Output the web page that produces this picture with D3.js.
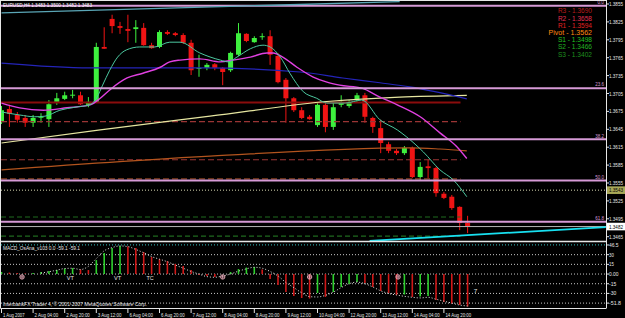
<!DOCTYPE html>
<html><head><meta charset="utf-8">
<script src="https://cdn.jsdelivr.net/npm/d3@7"></script>
<style>html,body{margin:0;padding:0;background:#000;overflow:hidden}svg{display:block}</style>
</head><body><svg id="c" width="625" height="318"></svg>
<script>
// ---------------- DATA ----------------
const opens  = [1.3657,1.3679,1.3669,1.3664,1.3656,1.3665,1.3662,1.3691,1.3696,1.3702,1.3702,1.3686,1.3691,1.3783,1.3830,1.3818,1.3813,1.3813,1.3815,1.3786,
                1.3783,1.3808,1.3806,1.3803,1.3790,1.3747,1.3748,1.3754,1.3748,1.3744,1.3770,1.3805,1.3791,1.3800,1.3801,1.3768,1.3728,1.3697,1.3677,1.3666,
                1.3652,1.3686,1.3649,1.3686,1.3684,1.3694,1.3702,1.3664,1.3647,1.3620,1.3609,1.3605,1.3614,1.3565,1.3583,1.3580,1.3537,1.3532,1.3515,1.3488];
const highs  = [1.3684,1.3686,1.3674,1.3669,1.3669,1.3672,1.3694,1.3706,1.3708,1.3711,1.3708,1.3699,1.3790,1.3816,1.3837,1.3825,1.3837,1.3828,1.3823,1.3790,
                1.3811,1.3811,1.3808,1.3806,1.3795,1.3770,1.3756,1.3756,1.3749,1.3775,1.3823,1.3806,1.3801,1.3806,1.3811,1.3773,1.3731,1.3699,1.3682,1.3669,
                1.3689,1.3691,1.3691,1.3702,1.3694,1.3706,1.3706,1.3666,1.3661,1.3624,1.3612,1.3617,1.3616,1.3590,1.3594,1.3582,1.3540,1.3535,1.3516,1.3500];
const lows   = [1.3654,1.3649,1.3656,1.3649,1.3649,1.3656,1.3649,1.3686,1.3694,1.3697,1.3686,1.3682,1.3689,1.3780,1.3806,1.3805,1.3791,1.3790,1.3785,1.3780,
                1.3781,1.3803,1.3801,1.3788,1.3736,1.3733,1.3744,1.3744,1.3719,1.3741,1.3768,1.3791,1.3790,1.3795,1.3753,1.3722,1.3656,1.3674,1.3662,1.3661,
                1.3649,1.3640,1.3644,1.3682,1.3681,1.3691,1.3656,1.3639,1.3605,1.3605,1.3602,1.3602,1.3563,1.3560,1.3563,1.3532,1.3528,1.3510,1.3476,1.3471];
const closes = [1.3677,1.3671,1.3661,1.3656,1.3664,1.3666,1.3687,1.3697,1.3702,1.3703,1.3687,1.3691,1.3783,1.3780,1.3818,1.3815,1.3810,1.3816,1.3786,1.3781,
                1.3808,1.3805,1.3803,1.3790,1.3744,1.3748,1.3753,1.3748,1.3741,1.3773,1.3806,1.3793,1.3798,1.3801,1.3770,1.3724,1.3697,1.3677,1.3664,1.3662,
                1.3686,1.3649,1.3682,1.3691,1.3689,1.3702,1.3666,1.3649,1.3622,1.3609,1.3605,1.3614,1.3565,1.3582,1.3580,1.3538,1.3530,1.3513,1.3488,1.3482];

// moving averages: [bar index, price]
const maFast = [[0,1.3674],[2.3,1.3669],[4.2,1.3666],[5.5,1.3667],[7.4,1.3677],[9.3,1.3682],[11.2,1.3686],[12.1,1.3699],[12.8,1.3719],[13.7,1.3744],
                [14.7,1.3766],[15.8,1.3778],[17.5,1.3783],[19.4,1.3783],[21.3,1.3791],[22.6,1.3791],[25.1,1.3773],[27.7,1.3761],[28.7,1.3758],[29.8,1.3766],
                [31.5,1.3780],[33.1,1.3786],[34.0,1.3783],[35.3,1.3766],[36.5,1.3739],[38.2,1.3708],[39.9,1.3697],[41.2,1.3689],[43.5,1.3689],[45.6,1.3694],
                [47.9,1.3661],[50.1,1.3644],[51.3,1.3632],[53.4,1.3607],[55.5,1.3577],[57.2,1.3560],[58.9,1.3532]];
const maMid  = [[0,1.3689],[2.3,1.3681],[5.3,1.3677],[8.3,1.3681],[11.2,1.3686],[12.5,1.3697],[13.7,1.3711],[15.9,1.3731],[17.9,1.3739],[20.1,1.3749],
                [21.3,1.3758],[22.6,1.3761],[25.1,1.3763],[27.7,1.3758],[29.3,1.3761],[31.5,1.3766],[33.6,1.3773],[34.4,1.3773],[35.6,1.3766],[37.4,1.3749],
                [39.4,1.3733],[41.2,1.3724],[42.8,1.3719],[45.6,1.3714],[47.9,1.3699],[50.1,1.3686],[53.0,1.3666],[55.5,1.3639],[57.7,1.3615],[58.9,1.3596]];
const maBlue = [[0,1.3756],[11.2,1.3748],[25.1,1.3748],[37.8,1.3741],[43.2,1.3731],[47.9,1.3723],[51.7,1.3716],[58.9,1.3696]];
const maYellow = [[0,1.3622],[12.5,1.3644],[26.4,1.3667],[41.6,1.3692],[50.4,1.3699],[58.9,1.3702]];
const maBrown  = [[0,1.3577],[26.4,1.3600],[51.7,1.3614],[55.5,1.3612],[58.9,1.3609]];

// Fibonacci retracement
const fibHigh = 1.3852, fibLow = 1.32662;
const fibLevels = [0, 23.6, 38.2, 50.0, 61.8];
const fibLabels = ["0.0", "23.6", "38.2", "50.0", "61.8"];

// Pivot levels
const pivotNames  = ["R3", "R2", "R1", "Pivot", "S1", "S2", "S3"];
const pivotValues = [1.3690, 1.3658, 1.3594, 1.3562, 1.3498, 1.3466, 1.3402];

// other levels / trendlines
const alertLevel = 1.3543;
const bidPrice = 1.3482;
const trendTop = [[0, 1.3840], [50.4, 1.3859]];
const trendBottom = [[46.6, 1.3458], [76.5, 1.3481]];

// price axis ticks
const priceTicks = d3.range(1.3855, 1.3464, -0.003);

// MACD / OsMA
const histogram = [3.1,2.3,1.5,0.8,1.5,3.1,4.6,6.2,8.5,9.3,7.0,6.2,21.6,32.5,40.2,43.3,42.5,40.2,34.0,26.3,
                   23.2,20.1,15.5,12.4,6.2,-1.5,-3.1,-4.6,0.0,3.1,7.7,10.0,10.8,7.0,-7.7,-17.0,-27.8,-34.0,-37.1,-37.9,
                   -29.4,-35.5,-27.8,-20.1,-15.5,-12.4,-13.9,-20.1,-26.3,-29.4,-32.5,-31.7,-35.5,-34.8,-34.0,-40.2,-43.3,-45.6,-47.9,-50.2];
const signalStart = 5;
const signal = [1.5,3.5,6,8.5,9,7,12,24,36,41,43.5,42.5,38,33,27,23,19,14,9,4,0,-4,-5,-3,0,4.5,8,10.5,9,4,
                -3,-13,-21,-29,-35,-35.5,-33,-28,-21,-15,-12.5,-15,-20,-26,-30,-32.5,-34.5,-36,-37,-36,-39,-42,-45,-48,-49.5];
const macdMax = 46.5, macdMin = -51.8;
const macdGrid = [45, 30, 15, 0, -15, -30, -45];
const macdGridLabels = ["46.5", "30", "15", "0.00", "-15", "-30", "-51.8"];
const macdTags = [{i: 8.7, v: -9.5, t: "VT"}, {i: 14.7, v: -9.5, t: "VT"}, {i: 18.8, v: -9.5, t: "TC"}, {i: 60, v: -30, t: "7"}];
const macdMarks = [{i: 2.6, v: -4.5}, {i: 28, v: -4.5}, {i: 39, v: -4.5}, {i: 50.2, v: -4.5}];

// time axis
const timeIdx = [0,4,8,12,16,20,24,28,32,36,40,44,48,52,56];
const timeLabels = ["1 Aug 2007","2 Aug 04:00","2 Aug 20:00","3 Aug 12:00","6 Aug 04:00","6 Aug 20:00","7 Aug 12:00","8 Aug 04:00",
                    "8 Aug 20:00","9 Aug 12:00","10 Aug 04:00","12 Aug 20:00","13 Aug 12:00","14 Aug 04:00","14 Aug 20:00"];

const titleText = "EURUSD,H4 1.3483 1.3500 1.3482 1.3483";
const macdTitle = "MACD_OsAna_v103 0.0 -59.1 -59.1";
const copyright = "InterbankFX Trader 4, \u00a9 2001-2007 MetaQuotes Software Corp.";

// ---------------- DRAW ----------------
const svg = d3.select("#c");
const FONT = "Liberation Sans, Arial, sans-serif";
const x = d3.scaleLinear().domain([0, 59]).range([1.5, 467.6]);
const y = d3.scaleLinear().domain([1.3465, 1.3855]).range([236.7, 4]);
const ym = d3.scaleLinear().domain([macdMin, macdMax]).range([307.5, 244]);
const AX = 606;

function txt(g, px, py, s, o) {
  const t = g.append("text").attr("x", px).attr("y", py).text(s)
    .attr("font-family", FONT).attr("font-size", o.size || 6).attr("fill", o.fill || "#fff");
  if (o.w) t.attr("textLength", o.w).attr("lengthAdjust", "spacingAndGlyphs");
  if (o.anchor) t.attr("text-anchor", o.anchor);
  return t;
}

svg.append("rect").attr("width", 625).attr("height", 318).attr("fill", "#000");
const defs = svg.append("defs");
defs.append("clipPath").attr("id", "mainClip").append("rect").attr("x", 1).attr("y", 1).attr("width", AX - 1).attr("height", 240);
defs.append("clipPath").attr("id", "macdClip").append("rect").attr("x", 1).attr("y", 242).attr("width", AX - 1).attr("height", 66);

const main = svg.append("g").attr("clip-path", "url(#mainClip)");

// candles
const cg = main.append("g");
opens.forEach((o, i) => {
  const c = closes[i], bull = c >= o, col = bull ? "#3ef03e" : "#f01414";
  cg.append("line").attr("x1", x(i)).attr("x2", x(i)).attr("y1", y(highs[i])).attr("y2", y(lows[i]))
    .attr("stroke", col).attr("stroke-width", 1);
  const top = y(Math.max(o, c)), bot = y(Math.min(o, c));
  cg.append("rect").attr("x", x(i) - 2.5).attr("width", 5).attr("y", top).attr("height", Math.max(1, bot - top)).attr("fill", col);
});

// pivot lines
const pivotStyles = [
  {c: "#8a0c0c", w: 2, d: null}, {c: "#9a3434", w: 1.2, d: "6,3"}, {c: "#9a3434", w: 1.2, d: "6,3"},
  {c: "#8a4020", w: 1.2, d: "6,3"}, {c: "#1f6a1f", w: 1.2, d: "5,3"}, {c: "#1f6a1f", w: 1.2, d: "5,3"}, {c: "#1f6a1f", w: 1.2, d: "5,3"}];
const pivotEnd = 58.1;
pivotValues.forEach((v, k) => {
  const st = pivotStyles[k];
  const l = main.append("line").attr("x1", 1).attr("x2", x(pivotEnd)).attr("y1", y(v)).attr("y2", y(v))
    .attr("stroke", st.c).attr("stroke-width", st.w);
  if (st.d) l.attr("stroke-dasharray", st.d);
});

// moving averages
const line = d3.line().x(d => x(d[0])).y(d => y(d[1])).curve(d3.curveMonotoneX);
[[maBrown, "#b3541e", 1.2], [maYellow, "#e6e6a0", 1.2], [maBlue, "#2424b8", 1.2], [maMid, "#e040e0", 1.4], [maFast, "#4cc8a0", 1]]
  .forEach(([d, c, w]) => main.append("path").attr("d", line(d)).attr("fill", "none").attr("stroke", c).attr("stroke-width", w));

// fib lines
fibLevels.forEach((lv, k) => {
  const p = fibHigh - (fibHigh - fibLow) * lv / 100;
  main.append("line").attr("x1", 1).attr("x2", AX).attr("y1", y(p)).attr("y2", y(p)).attr("stroke", "#d69ad6").attr("stroke-width", 2);
  txt(main, 604, y(p) - 1.8, fibLabels[k], {size: 5, fill: "#d69ad6", anchor: "end", w: fibLabels[k].length * 2.2});
});

// alert dotted line, bid line
main.append("line").attr("x1", 1).attr("x2", AX).attr("y1", y(alertLevel)).attr("y2", y(alertLevel))
  .attr("stroke", "#d8d8b0").attr("stroke-width", 1).attr("stroke-dasharray", "1,2");
main.append("line").attr("x1", 1).attr("x2", AX).attr("y1", y(bidPrice)).attr("y2", y(bidPrice)).attr("stroke", "#b4b4b4").attr("stroke-width", 1);

// trendlines
const tl = d3.line().x(d => x(d[0])).y(d => y(d[1]));
main.append("path").attr("d", tl(trendTop)).attr("stroke", "#5aa6b6").attr("stroke-width", 1.3).attr("fill", "none");
main.append("path").attr("d", tl(trendBottom)).attr("stroke", "#18e0f0").attr("stroke-width", 1.8).attr("fill", "none");

// pivot text
const pivotColors = ["#b81c1c", "#e03050", "#e02020", "#ff8a10", "#22c022", "#22b022", "#1f8f1f"];
pivotNames.forEach((n, k) => {
  const s = n + " - " + pivotValues[k].toFixed(4);
  txt(svg, 592, 13.3 + k * 7.2, s, {size: 6.5, fill: pivotColors[k], anchor: "end", w: s.length * 3.1});
});

// title
txt(svg, 3, 6.6, titleText, {size: 5.5, fill: "#fff", w: 89});

// ---------- MACD panel ----------
const mg = svg.append("g").attr("clip-path", "url(#macdClip)");
macdGrid.forEach((v, k) => {
  mg.append("line").attr("x1", 1).attr("x2", AX).attr("y1", ym(v)).attr("y2", ym(v))
    .attr("stroke", k === 0 ? "#2a9a9a" : "#c8c8c8").attr("stroke-width", k === 0 ? 1.3 : 1).attr("stroke-dasharray", "1,2");
});
histogram.forEach((v, i) => {
  const up = i === 0 || v >= histogram[i - 1];
  mg.append("line").attr("x1", x(i)).attr("x2", x(i)).attr("y1", ym(0)).attr("y2", ym(v))
    .attr("stroke", up ? "#2ed02e" : "#d01818").attr("stroke-width", 1.6);
});
mg.append("path").attr("d", d3.line().x((d, k) => x(k + signalStart)).y(d => ym(d)).curve(d3.curveMonotoneX)(signal))
  .attr("fill", "none").attr("stroke", "#e8e8e8").attr("stroke-width", 1).attr("stroke-dasharray", "1,2");
macdTags.forEach(t => txt(mg, x(t.i), ym(t.v), t.t, {size: 6, fill: "#e0e0e0", anchor: "middle", w: t.t.length * 3.6}));
macdMarks.forEach(m => {
  mg.append("circle").attr("cx", x(m.i)).attr("cy", ym(m.v)).attr("r", 2.2).attr("fill", "none").attr("stroke", "#f0b0c0").attr("stroke-width", 0.9);
  mg.append("path").attr("d", `M${x(m.i) - 2},${ym(m.v)}h4M${x(m.i)},${ym(m.v) - 2}v4`).attr("stroke", "#f0b0c0").attr("stroke-width", 0.8);
});
txt(svg, 3, 249.5, macdTitle, {size: 5.5, fill: "#e8e8e8", w: 77});
txt(svg, 3, 306, copyright, {size: 5.5, fill: "#e8e8e8", w: 144});

// ---------- frame ----------
const fr = svg.append("g").attr("stroke", "#e6e6e6").attr("fill", "none");
fr.append("line").attr("x1", 0.5).attr("x2", AX).attr("y1", 0.5).attr("y2", 0.5);
fr.append("line").attr("x1", 0.5).attr("x2", AX).attr("y1", 241.5).attr("y2", 241.5).attr("stroke-width", 1.5);
fr.append("line").attr("x1", 0.5).attr("x2", AX).attr("y1", 308.5).attr("y2", 308.5);
fr.append("line").attr("x1", 0.5).attr("x2", 0.5).attr("y1", 0).attr("y2", 308.5);
fr.append("line").attr("x1", AX + 0.5).attr("x2", AX + 0.5).attr("y1", 0).attr("y2", 308.5);

// price axis
priceTicks.forEach(v => {
  svg.append("line").attr("x1", AX).attr("x2", AX + 3).attr("y1", y(v)).attr("y2", y(v)).attr("stroke", "#e6e6e6");
  txt(svg, 609, y(v) + 2, v.toFixed(4), {size: 5.5, fill: "#e6e6e6", w: 14});
});
// alert & bid boxes
svg.append("rect").attr("x", 607).attr("y", y(alertLevel) - 3.8).attr("width", 18).attr("height", 7.6).attr("fill", "#a8a858");
txt(svg, 609, y(alertLevel) + 2, alertLevel.toFixed(4), {size: 5.5, fill: "#000", w: 14});
svg.append("rect").attr("x", 607).attr("y", y(bidPrice) - 3.8).attr("width", 18).attr("height", 7.6).attr("fill", "#ffffff");
txt(svg, 609, y(bidPrice) + 2, bidPrice.toFixed(4), {size: 5.5, fill: "#000", w: 14});

// MACD axis
macdGrid.forEach((v, k) => {
  svg.append("line").attr("x1", AX).attr("x2", AX + 3).attr("y1", ym(v)).attr("y2", ym(v)).attr("stroke", "#e6e6e6");
  txt(svg, 609, ym(v) + 2, macdGridLabels[k], {size: 5.5, fill: "#e6e6e6", w: macdGridLabels[k].length * 2.4});
});

// time axis
timeIdx.forEach((i, k) => {
  const px = Math.max(1, x(i));
  svg.append("line").attr("x1", px).attr("x2", px).attr("y1", 308.5).attr("y2", 313).attr("stroke", "#e6e6e6");
  txt(svg, px + 1.5, 316.5, timeLabels[k], {size: 5.5, fill: "#e6e6e6", w: timeLabels[k].length * 2.15});
});
</script></body></html>
